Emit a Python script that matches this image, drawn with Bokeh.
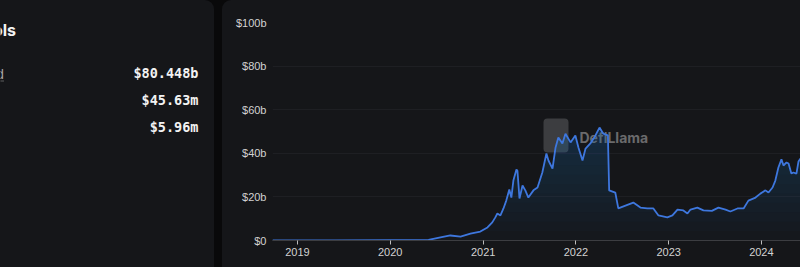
import numpy as np
import pandas as pd
from bokeh.plotting import figure
from bokeh.layouts import row
from bokeh.models import (Range1d, DatetimeTickFormatter, FixedTicker,
                          BoxAnnotation, Label, ColumnDataSource)
from bokeh.core.properties import value
from bokeh.embed import file_html
from bokeh.resources import INLINE

# ---------------- data ----------------
dates = ["2018-09-25", "2019-06-01", "2020-01-01", "2020-05-31", "2020-07-17",
         "2020-08-25", "2020-10-04", "2020-11-12", "2020-12-21", "2021-01-18",
         "2021-02-06", "2021-02-18", "2021-02-26", "2021-03-10", "2021-03-22",
         "2021-04-02", "2021-04-14", "2021-04-22", "2021-04-30", "2021-05-12",
         "2021-05-16", "2021-05-24", "2021-06-05", "2021-06-16", "2021-06-28",
         "2021-07-18", "2021-08-03", "2021-08-22", "2021-09-07", "2021-09-15",
         "2021-10-01", "2021-10-13", "2021-10-24", "2021-11-09", "2021-11-21",
         "2021-12-11", "2021-12-30", "2022-01-11", "2022-01-27", "2022-02-08",
         "2022-02-27", "2022-03-19", "2022-04-04", "2022-04-19", "2022-05-07",
         "2022-05-12", "2022-06-05", "2022-06-17", "2022-07-15", "2022-08-15",
         "2022-09-12", "2022-10-09", "2022-11-02", "2022-11-22", "2022-12-27",
         "2023-01-16", "2023-02-05", "2023-02-28", "2023-03-16", "2023-03-28",
         "2023-04-24", "2023-05-18", "2023-06-20", "2023-07-16", "2023-08-13",
         "2023-09-01", "2023-09-29", "2023-10-23", "2023-11-11", "2023-12-09",
         "2023-12-28", "2024-01-17", "2024-01-29", "2024-02-14", "2024-02-25",
         "2024-03-08", "2024-03-20", "2024-03-28", "2024-04-09", "2024-04-17",
         "2024-04-28", "2024-05-06", "2024-05-18", "2024-05-26", "2024-06-03"]
tvl_billions = [0.0, 0.1, 0.2, 0.3, 1.4,
                2.3, 1.8, 3.2, 4.1, 6.0,
                8.3, 10.6, 12.4, 11.5, 14.7,
                18.3, 23.4, 19.7, 27.5, 32.6,
                32.0, 19.3, 25.2, 23.0, 19.7,
                23.0, 24.3, 31.2, 39.9, 36.7,
                33.0, 42.7, 47.2, 44.5, 49.0,
                45.0, 48.2, 42.7, 36.7, 42.2,
                44.5, 48.2, 51.8, 49.0, 48.2,
                23.0, 22.0, 14.7, 16.0, 17.4,
                15.1, 14.7, 14.7, 11.5, 10.6,
                11.5, 14.2, 13.8, 12.4, 14.2,
                15.1, 13.8, 13.6, 15.1, 14.2,
                13.3, 14.7, 14.7, 18.3, 19.7,
                21.5, 23.0, 22.0, 24.3, 27.5,
                33.5, 37.2, 34.4, 35.8, 35.3,
                30.7, 31.2, 30.7, 36.2, 37.6]
assert len(dates) == len(tvl_billions)

y_ticks = [0, 20, 40, 60, 80, 100]
y_tick_labels = ["$0", "$20b", "$40b", "$60b", "$80b", "$100b"]
x_tick_years = [2019, 2020, 2021, 2022, 2023, 2024]

panel_title_fragment = "ols"
row_label_fragment = "d"
stat_values = ["$80.448b", "$45.63m", "$5.96m"]

# ---------------- colors ----------------
PANEL = "#151619"
GAP = "#09090a"
LINE = "#3e77de"
FILL = "#2d5cb5"
LABEL = "#d2d2d2"

TOP, BOTTOM = 22, 27
H = 267

# ---------------- left panel (pixel coordinate system) ----------------
left = figure(width=214, height=H, x_range=Range1d(0, 214), y_range=Range1d(H - BOTTOM, TOP),
              output_backend="svg", toolbar_location=None,
              min_border_left=0, min_border_right=0,
              min_border_top=TOP, min_border_bottom=BOTTOM,
              styles={"background-color": PANEL, "border-top-right-radius": "9px"})
left.axis.visible = False
left.grid.visible = False
left.outline_line_color = None
left.background_fill_alpha = 0
left.border_fill_alpha = 0

left.text(x=[15.5], y=[29], text=[panel_title_fragment], text_align="right",
          text_baseline="middle", text_font=value("Inter"), text_font_style="bold",
          text_font_size="16px", text_color="#f2f2f2")
left.text(x=[3.5], y=[73], text=[row_label_fragment], text_align="right",
          text_baseline="middle", text_font=value("Inter"),
          text_font_size="13px", text_color="#a8a8a8")
left.segment(x0=[0], y0=[80.5], x1=[3.5], y1=[80.5], line_color="#a8a8a8",
             line_width=1, line_dash="1 1")
left.text(x=[198, 198, 198], y=[72, 99.5, 126.5], text=stat_values, text_align="right",
          text_baseline="middle", text_font=value("DejaVu Sans Mono"),
          text_font_style="bold", text_font_size="13.5px", text_color="#f2f2f2")

# ---------------- chart panel ----------------
x = pd.to_datetime(dates)
v = np.array(tvl_billions)
src = ColumnDataSource(dict(x=x, v=v))

p = figure(width=578, height=H, x_axis_type="datetime",
           x_range=Range1d(x[0], x[-1]), y_range=Range1d(0, 100),
           output_backend="svg", toolbar_location=None,
           min_border_left=50, min_border_right=0,
           min_border_top=TOP, min_border_bottom=BOTTOM,
           styles={"background-color": PANEL, "border-top-left-radius": "9px"})
p.background_fill_alpha = 0
p.border_fill_alpha = 0
p.outline_line_color = None

# gradient-like area fill: stacked translucent bands from each level up to the line
levels = np.linspace(0, v.max(), 12, endpoint=False)
for lv in levels:
    p.varea(x=x, y1=np.minimum(v, lv), y2=v, fill_color=FILL, fill_alpha=0.027)

# watermark
p.add_layout(BoxAnnotation(left=271, right=296, bottom=88, top=122,
                           left_units="screen", right_units="screen",
                           bottom_units="screen", top_units="screen",
                           fill_color="#4a4b4e", fill_alpha=0.75, line_color=None,
                           border_radius=4, level="underlay"))
p.add_layout(Label(x=307, y=103, x_units="screen", y_units="screen", text="DefiLlama",
                   text_font="Inter", text_font_style="bold", text_font_size="14px",
                   text_color="#6a6a6c", text_baseline="middle", level="underlay"))

p.line(x="x", y="v", source=src, line_color=LINE, line_width=1.8)

p.yaxis.ticker = FixedTicker(ticks=y_ticks)
p.yaxis.major_label_overrides = {t: l for t, l in zip(y_ticks, y_tick_labels)}
p.yaxis.axis_line_color = None
p.yaxis.major_tick_line_color = None
p.yaxis.major_tick_out = 0
p.yaxis.major_tick_in = 0
p.yaxis.minor_tick_line_color = None
p.yaxis.minor_tick_out = 0
p.yaxis.major_label_standoff = 6
p.yaxis.major_label_text_color = LABEL
p.yaxis.major_label_text_font = "Liberation Sans"
p.yaxis.major_label_text_font_size = "11px"

year_ticks_ms = [pd.Timestamp(f"{yr}-01-01").value / 1e6 for yr in x_tick_years]
p.xaxis.ticker = FixedTicker(ticks=year_ticks_ms)
p.xaxis.formatter = DatetimeTickFormatter(years="%Y", months="%Y", days="%Y",
                                          hours="%Y", minutes="%Y", seconds="%Y")
p.xaxis.axis_line_color = "#3c3d41"
p.xaxis.major_tick_line_color = "#bdbdbd"
p.xaxis.major_tick_out = 4
p.xaxis.major_tick_in = 0
p.xaxis.minor_tick_line_color = None
p.xaxis.major_label_standoff = 3
p.xaxis.major_label_text_color = LABEL
p.xaxis.major_label_text_font = "Liberation Sans"
p.xaxis.major_label_text_font_size = "11px"

p.xgrid.grid_line_color = None
p.ygrid.grid_line_color = "#1e1f23"
p.ygrid.ticker = FixedTicker(ticks=y_ticks)

layout = row(left, p, spacing=8, styles={"background-color": GAP})
open("out.html", "w").write(file_html(layout, INLINE))
